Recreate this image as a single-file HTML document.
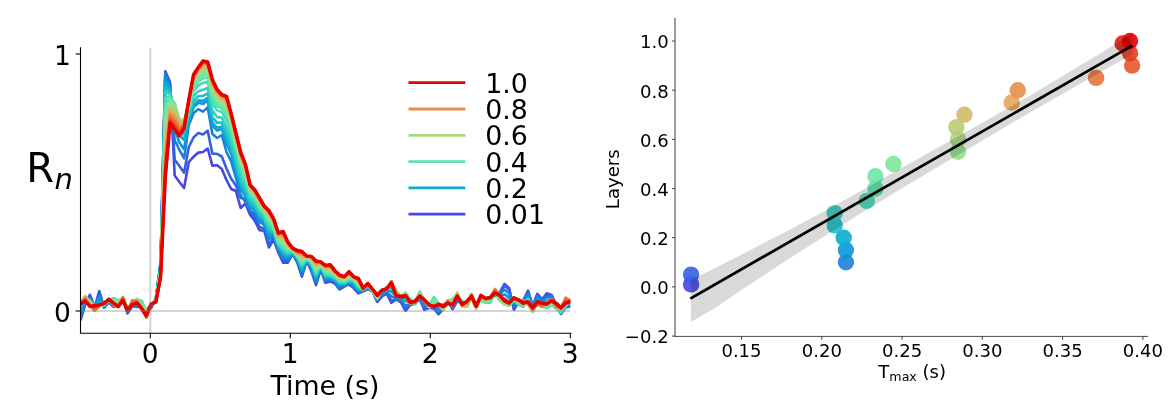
<!DOCTYPE html>
<html lang="en"><head><meta charset="utf-8"><title>Figure</title>
<style>html,body{margin:0;padding:0;background:#fff}svg{display:block}</style></head>
<body>
<svg width="1169" height="404" viewBox="0 0 1169 404" font-family="'DejaVu Sans', 'Liberation Sans', sans-serif">
<rect width="1169" height="404" fill="#fff"/>
<g id="left">
<clipPath id="cl"><rect x="80.5" y="47.8" width="489.9" height="285.5"/></clipPath>
<g clip-path="url(#cl)" fill="none" stroke-linejoin="round" stroke-linecap="butt">
<polyline points="80.5,320.5 85.2,304.1 89.9,294.8 94.6,307.8 99.3,291.2 104.1,307.6 108.8,302.2 113.5,306.9 118.2,305.1 122.9,298.6 127.6,313.3 132.3,305.9 137.0,306.9 141.7,305.5 146.4,309.5 151.2,308.0 155.9,297.9 160.6,262.0 165.3,71.4 170.0,82.0 174.7,175.6 179.4,182.0 184.1,188.0 188.8,162.0 193.6,156.7 198.3,152.6 203.0,152.0 207.7,148.6 212.4,165.6 217.1,165.3 221.8,169.0 226.5,180.0 231.2,189.0 235.9,191.0 240.7,208.0 245.4,203.5 250.1,214.7 254.8,220.8 259.5,230.2 264.2,230.7 268.9,247.4 273.6,239.7 278.3,252.4 283.1,262.7 287.8,262.7 292.5,253.9 297.2,262.2 301.9,276.7 306.6,260.8 311.3,270.9 316.0,285.1 320.7,269.1 325.4,282.8 330.2,281.4 334.9,283.5 339.6,289.5 344.3,286.6 349.0,284.4 353.7,288.1 358.4,293.4 363.1,291.4 367.8,289.1 372.6,291.4 377.3,302.0 382.0,296.3 386.7,293.7 391.4,302.8 396.1,299.4 400.8,302.0 405.5,310.9 410.2,304.9 415.0,303.5 419.7,299.1 424.4,309.9 429.1,307.8 433.8,308.4 438.5,314.3 443.2,308.6 447.9,300.6 452.6,309.2 457.3,301.2 462.1,303.4 466.8,302.5 471.5,296.2 476.2,308.3 480.9,298.5 485.6,298.6 490.3,296.6 495.0,296.0 499.7,292.6 504.5,284.0 509.2,288.3 513.9,309.8 518.6,302.1 523.3,300.3 528.0,290.7 532.7,306.0 537.4,293.8 542.1,299.3 546.8,293.2 551.6,295.0 556.3,305.3 561.0,314.0 565.7,307.3 570.4,306.6" stroke="#4646e3" stroke-width="2.6"/>
<polyline points="80.5,318.9 85.2,303.9 89.9,295.7 94.6,307.6 99.3,292.4 104.1,307.3 108.8,302.0 113.5,306.3 118.2,305.0 122.9,298.8 127.6,313.0 132.3,305.8 137.0,306.5 141.7,305.5 146.4,310.1 151.2,307.6 155.9,298.2 160.6,263.0 165.3,72.0 170.0,84.0 174.7,159.8 179.4,166.0 184.1,172.7 188.8,147.0 193.6,137.4 198.3,133.0 203.0,134.5 207.7,130.7 212.4,153.8 217.1,153.8 221.8,156.5 226.5,168.5 231.2,178.7 235.9,185.5 240.7,198.0 245.4,198.8 250.1,211.3 254.8,217.5 259.5,226.9 264.2,228.4 268.9,244.1 273.6,238.1 278.3,251.0 283.1,260.6 287.8,261.4 292.5,253.5 297.2,261.5 301.9,275.2 306.6,260.6 311.3,270.0 316.0,283.7 320.7,268.7 325.4,281.7 330.2,280.4 334.9,282.7 339.6,288.6 344.3,286.0 349.0,283.7 353.7,287.3 358.4,292.5 363.1,291.2 367.8,288.7 372.6,291.3 377.3,301.4 382.0,295.8 386.7,293.2 391.4,301.0 396.1,299.0 400.8,301.5 405.5,309.4 410.2,304.5 415.0,303.4 419.7,298.6 424.4,309.0 429.1,307.5 433.8,307.9 438.5,313.4 443.2,308.5 447.9,300.8 452.6,308.6 457.3,300.7 462.1,303.3 466.8,302.5 471.5,296.2 476.2,308.0 480.9,298.4 485.6,298.7 490.3,296.9 495.0,295.7 499.7,293.0 504.5,285.6 509.2,289.7 513.9,308.8 518.6,302.1 523.3,300.7 528.0,291.5 532.7,306.2 537.4,294.5 542.1,299.7 546.8,294.3 551.6,295.7 556.3,305.3 561.0,313.7 565.7,307.0 570.4,306.1" stroke="#3262e0" stroke-width="2.6"/>
<polyline points="80.5,314.9 85.2,303.2 89.9,298.0 94.6,307.1 99.3,295.5 104.1,306.6 108.8,301.4 113.5,305.0 118.2,304.8 122.9,299.2 127.6,312.0 132.3,305.6 137.0,305.4 141.7,305.5 146.4,311.5 151.2,306.7 155.9,299.1 160.6,264.0 165.3,74.0 170.0,86.0 174.7,140.0 179.4,150.0 184.1,158.3 188.8,125.0 193.6,113.0 198.3,109.2 203.0,111.6 207.7,107.4 212.4,134.0 217.1,138.0 221.8,135.0 226.5,152.0 231.2,161.5 235.9,178.0 240.7,195.0 245.4,201.9 250.1,210.2 254.8,213.8 259.5,221.8 264.2,224.8 268.9,239.2 273.6,235.7 278.3,249.1 283.1,258.0 287.8,259.7 292.5,253.3 297.2,260.5 301.9,273.3 306.6,260.3 311.3,268.5 316.0,281.7 320.7,268.2 325.4,280.4 330.2,279.2 334.9,281.7 339.6,287.3 344.3,285.3 349.0,282.8 353.7,286.2 358.4,291.5 363.1,290.9 367.8,288.3 372.6,291.2 377.3,299.9 382.0,294.4 386.7,291.9 391.4,296.5 396.1,298.0 400.8,300.3 405.5,305.6 410.2,303.6 415.0,303.2 419.7,297.6 424.4,306.8 429.1,306.8 433.8,306.6 438.5,311.0 443.2,308.2 447.9,301.4 452.6,307.0 457.3,299.6 462.1,303.2 466.8,302.4 471.5,296.4 476.2,307.5 480.9,298.2 485.6,299.1 490.3,297.6 495.0,295.0 499.7,294.1 504.5,289.7 509.2,293.4 513.9,306.3 518.6,302.1 523.3,301.7 528.0,293.8 532.7,306.9 537.4,296.5 542.1,300.8 546.8,297.2 551.6,297.4 556.3,305.3 561.0,312.7 565.7,306.3 570.4,304.7" stroke="#1e7edc" stroke-width="2.6"/>
<polyline points="80.5,310.2 85.2,302.5 89.9,300.4 94.6,306.5 99.3,299.0 104.1,305.8 108.8,300.8 113.5,303.2 118.2,304.3 122.9,299.7 127.6,310.9 132.3,305.4 137.0,304.0 141.7,305.0 146.4,313.1 151.2,305.7 155.9,299.9 160.6,265.0 165.3,78.0 170.0,88.0 174.7,129.0 179.4,142.5 184.1,149.2 188.8,121.2 193.6,107.1 198.3,102.8 203.0,103.9 207.7,100.5 212.4,125.7 217.1,130.6 221.8,128.8 226.5,143.5 231.2,154.2 235.9,171.1 240.7,188.5 245.4,196.4 250.1,206.5 254.8,210.4 259.5,218.8 264.2,222.5 268.9,235.9 273.6,234.1 278.3,247.8 283.1,255.7 287.8,257.9 292.5,253.1 297.2,259.4 301.9,271.4 306.6,260.1 311.3,267.1 316.0,279.8 320.7,267.8 325.4,279.0 330.2,278.1 334.9,280.8 339.6,286.0 344.3,284.7 349.0,281.9 353.7,284.9 358.4,290.5 363.1,290.5 367.8,287.7 372.6,291.1 377.3,298.2 382.0,292.8 386.7,290.3 391.4,291.4 396.1,296.7 400.8,299.0 405.5,301.1 410.2,302.4 415.0,303.2 419.7,296.1 424.4,304.3 429.1,306.0 433.8,304.7 438.5,308.2 443.2,307.9 447.9,302.0 452.6,304.9 457.3,298.3 462.1,302.9 466.8,302.4 471.5,296.6 476.2,306.7 480.9,298.1 485.6,299.7 490.3,298.7 495.0,294.1 499.7,295.6 504.5,294.4 509.2,297.6 513.9,303.5 518.6,302.3 523.3,303.1 528.0,296.2 532.7,307.7 537.4,298.7 542.1,302.2 546.8,300.8 551.6,299.6 556.3,305.5 561.0,311.8 565.7,305.7 570.4,303.0" stroke="#0a96d7" stroke-width="2.6"/>
<polyline points="80.5,306.4 85.2,301.9 89.9,301.8 94.6,306.1 99.3,301.7 104.1,305.3 108.8,300.5 113.5,301.3 118.2,303.4 122.9,300.1 127.6,309.7 132.3,305.3 137.0,302.7 141.7,303.9 146.4,314.3 151.2,305.0 155.9,300.4 160.6,266.0 165.3,82.0 170.0,90.0 174.7,118.0 179.4,135.0 184.1,140.0 188.8,119.7 193.6,104.9 198.3,100.4 203.0,100.9 207.7,97.8 212.4,122.5 217.1,127.7 221.8,126.5 226.5,140.2 231.2,151.4 235.9,168.5 240.7,186.0 245.4,194.6 250.1,204.8 254.8,208.7 259.5,217.2 264.2,221.1 268.9,233.5 273.6,233.1 278.3,246.8 283.1,253.9 287.8,256.3 292.5,252.8 297.2,258.4 301.9,269.5 306.6,259.9 311.3,265.7 316.0,278.0 320.7,267.2 325.4,277.7 330.2,277.2 334.9,279.8 339.6,284.7 344.3,284.1 349.0,281.2 353.7,283.6 358.4,289.6 363.1,290.1 367.8,287.1 372.6,291.1 377.3,296.9 382.0,291.6 386.7,288.9 391.4,287.6 396.1,295.5 400.8,297.9 405.5,297.4 410.2,301.1 415.0,303.4 419.7,294.6 424.4,302.4 429.1,305.4 433.8,302.3 438.5,305.9 443.2,307.9 447.9,302.3 452.6,302.7 457.3,297.2 462.1,302.3 466.8,302.6 471.5,296.9 476.2,306.1 480.9,298.5 485.6,300.5 490.3,300.0 495.0,293.4 499.7,297.3 504.5,298.4 509.2,301.1 513.9,301.5 518.6,302.9 523.3,304.5 528.0,297.9 532.7,308.6 537.4,300.6 542.1,303.5 546.8,304.0 551.6,301.6 556.3,306.2 561.0,311.6 565.7,305.5 570.4,301.5" stroke="#09acd1" stroke-width="2.6"/>
<polyline points="80.5,303.9 85.2,301.4 89.9,302.2 94.6,305.8 99.3,303.3 104.1,305.2 108.8,300.4 113.5,299.7 118.2,302.1 122.9,300.2 127.6,308.7 132.3,305.2 137.0,301.6 141.7,302.4 146.4,314.9 151.2,304.6 155.9,300.4 160.6,267.0 165.3,87.0 170.0,92.0 174.7,113.0 179.4,130.5 184.1,135.0 188.8,117.2 193.6,101.1 198.3,96.2 203.0,95.9 207.7,93.3 212.4,117.2 217.1,122.9 221.8,122.5 226.5,134.7 231.2,146.7 235.9,164.1 240.7,181.8 245.4,191.2 250.1,202.3 254.8,206.4 259.5,214.9 264.2,219.2 268.9,230.7 273.6,232.0 278.3,245.5 283.1,252.0 287.8,254.8 292.5,252.3 297.2,257.6 301.9,267.7 306.6,259.6 311.3,264.6 316.0,276.3 320.7,266.6 325.4,276.4 330.2,276.4 334.9,278.8 339.6,283.5 344.3,283.5 349.0,280.6 353.7,282.4 358.4,288.6 363.1,289.8 367.8,286.4 372.6,291.2 377.3,296.2 382.0,290.9 386.7,287.9 391.4,285.4 396.1,294.5 400.8,297.2 405.5,294.8 410.2,300.0 415.0,303.9 419.7,293.1 424.4,301.3 429.1,305.1 433.8,299.8 438.5,304.3 443.2,308.1 447.9,302.4 452.6,300.7 457.3,296.5 462.1,301.6 466.8,303.1 471.5,297.3 476.2,305.6 480.9,299.3 485.6,301.5 490.3,301.3 495.0,293.0 499.7,298.8 504.5,301.0 509.2,303.5 513.9,300.5 518.6,303.8 523.3,305.8 528.0,298.7 532.7,309.5 537.4,301.9 542.1,304.6 546.8,306.4 551.6,303.3 556.3,307.2 561.0,312.0 565.7,305.7 570.4,300.2" stroke="#1dbfca" stroke-width="2.6"/>
<polyline points="80.5,302.7 85.2,300.9 89.9,301.8 94.6,305.9 99.3,304.0 104.1,305.4 108.8,300.4 113.5,298.5 118.2,300.9 122.9,300.1 127.6,308.0 132.3,305.1 137.0,300.7 141.7,301.2 146.4,314.8 151.2,304.4 155.9,300.2 160.6,268.0 165.3,92.0 170.0,94.0 174.7,108.0 179.4,126.0 184.1,130.0 188.8,114.2 193.6,96.4 198.3,91.2 203.0,89.8 207.7,87.9 212.4,110.7 217.1,117.1 221.8,117.6 226.5,128.0 231.2,141.0 235.9,158.7 240.7,176.7 245.4,186.9 250.1,199.2 254.8,203.6 259.5,212.2 264.2,217.2 268.9,227.7 273.6,230.7 278.3,244.2 283.1,250.0 287.8,253.4 292.5,251.7 297.2,256.8 301.9,266.0 306.6,259.3 311.3,263.6 316.0,274.7 320.7,265.9 325.4,275.2 330.2,275.6 334.9,277.8 339.6,282.4 344.3,282.9 349.0,280.1 353.7,281.4 358.4,287.5 363.1,289.4 367.8,285.6 372.6,291.2 377.3,296.1 382.0,290.5 386.7,287.4 391.4,284.6 396.1,293.6 400.8,296.9 405.5,293.4 410.2,299.3 415.0,304.2 419.7,292.0 424.4,300.8 429.1,305.2 433.8,297.9 438.5,303.5 443.2,308.6 447.9,302.4 452.6,299.3 457.3,295.9 462.1,301.1 466.8,303.7 471.5,297.6 476.2,305.5 480.9,300.1 485.6,302.3 490.3,302.3 495.0,292.7 499.7,300.0 504.5,302.6 509.2,304.8 513.9,300.3 518.6,304.5 523.3,306.6 528.0,299.0 532.7,310.3 537.4,302.6 542.1,305.5 546.8,307.7 551.6,304.4 556.3,308.1 561.0,312.6 565.7,306.0 570.4,299.4" stroke="#31cfc2" stroke-width="2.6"/>
<polyline points="80.5,302.2 85.2,300.2 89.9,301.2 94.6,306.2 99.3,304.3 104.1,305.4 108.8,300.4 113.5,298.1 118.2,300.2 122.9,299.7 127.6,307.7 132.3,304.9 137.0,299.9 141.7,300.8 146.4,313.9 151.2,304.5 155.9,299.9 160.6,269.0 165.3,98.0 170.0,96.0 174.7,105.5 179.4,123.5 184.1,127.0 188.8,110.8 193.6,91.1 198.3,85.5 203.0,82.9 207.7,81.6 212.4,103.2 217.1,110.4 221.8,112.1 226.5,120.4 231.2,134.4 235.9,152.4 240.7,170.8 245.4,181.9 250.1,195.9 254.8,200.6 259.5,209.4 264.2,215.0 268.9,224.4 273.6,229.2 278.3,243.0 283.1,248.1 287.8,252.1 292.5,251.2 297.2,256.2 301.9,264.4 306.6,258.9 311.3,262.7 316.0,273.2 320.7,265.4 325.4,274.1 330.2,274.7 334.9,276.8 339.6,281.5 344.3,282.2 349.0,279.5 353.7,280.5 358.4,286.6 363.1,289.2 367.8,285.0 372.6,291.3 377.3,296.3 382.0,290.3 386.7,287.4 391.4,284.3 396.1,292.7 400.8,296.8 405.5,292.8 410.2,299.0 415.0,304.1 419.7,291.6 424.4,300.6 429.1,305.4 433.8,297.2 438.5,303.2 443.2,309.1 447.9,302.2 452.6,298.6 457.3,295.2 462.1,301.3 466.8,304.6 471.5,298.0 476.2,305.8 480.9,300.5 485.6,302.6 490.3,302.6 495.0,292.6 499.7,300.4 504.5,303.6 509.2,305.5 513.9,300.2 518.6,304.7 523.3,306.8 528.0,299.4 532.7,310.9 537.4,302.9 542.1,306.2 546.8,308.0 551.6,304.8 556.3,308.7 561.0,312.7 565.7,306.1 570.4,299.1" stroke="#45daba" stroke-width="2.6"/>
<polyline points="80.5,302.2 85.2,299.1 89.9,300.9 94.6,306.9 99.3,304.6 104.1,305.3 108.8,300.2 113.5,298.4 118.2,300.3 122.9,299.1 127.6,307.8 132.3,304.4 137.0,299.4 141.7,301.6 146.4,312.4 151.2,304.6 155.9,299.6 160.6,270.0 165.3,104.0 170.0,98.0 174.7,103.0 179.4,121.0 184.1,124.0 188.8,108.6 193.6,87.7 198.3,81.7 203.0,78.4 207.7,77.6 212.4,98.3 217.1,106.1 221.8,108.5 226.5,115.4 231.2,130.2 235.9,148.4 240.7,167.0 245.4,178.6 250.1,193.7 254.8,198.3 259.5,207.4 264.2,213.2 268.9,221.8 273.6,227.8 278.3,241.9 283.1,246.1 287.8,250.7 292.5,250.6 297.2,255.7 301.9,263.0 306.6,258.6 311.3,262.0 316.0,271.8 320.7,265.1 325.4,273.2 330.2,273.7 334.9,275.9 339.6,280.8 344.3,281.5 349.0,278.8 353.7,279.8 358.4,285.6 363.1,289.0 367.8,284.6 372.6,291.4 377.3,296.9 382.0,290.0 386.7,287.8 391.4,284.3 396.1,291.6 400.8,296.9 405.5,292.9 410.2,299.3 415.0,303.4 419.7,291.8 424.4,300.4 429.1,305.9 433.8,298.1 438.5,303.2 443.2,309.6 447.9,302.0 452.6,298.9 457.3,294.4 462.1,302.3 466.8,305.5 471.5,298.3 476.2,306.5 480.9,300.1 485.6,302.4 490.3,302.2 495.0,292.5 499.7,300.1 504.5,304.2 509.2,305.6 513.9,299.9 518.6,304.1 523.3,306.3 528.0,300.4 532.7,311.4 537.4,302.9 542.1,306.7 546.8,307.2 551.6,304.5 556.3,308.7 561.0,312.1 565.7,305.8 570.4,299.1" stroke="#59e2b0" stroke-width="2.6"/>
<polyline points="80.5,302.4 85.2,297.8 89.9,300.9 94.6,307.7 99.3,304.8 104.1,305.0 108.8,299.8 113.5,299.4 118.2,301.0 122.9,298.4 127.6,308.2 132.3,303.8 137.0,299.0 141.7,303.4 146.4,310.7 151.2,304.8 155.9,299.5 160.6,271.0 165.3,111.0 170.0,100.0 174.7,103.5 179.4,120.2 184.1,122.2 188.8,107.1 193.6,85.4 198.3,79.3 203.0,75.4 207.7,74.9 212.4,95.1 217.1,103.2 221.8,106.1 226.5,112.1 231.2,127.3 235.9,145.8 240.7,164.5 245.4,176.4 250.1,192.2 254.8,196.5 259.5,205.9 264.2,211.8 268.9,219.7 273.6,226.4 278.3,241.0 283.1,244.2 287.8,249.4 292.5,250.2 297.2,255.4 301.9,261.6 306.6,258.3 311.3,261.3 316.0,270.5 320.7,265.0 325.4,272.4 330.2,272.5 334.9,275.1 339.6,280.3 344.3,280.7 349.0,278.1 353.7,279.3 358.4,284.7 363.1,288.9 367.8,284.3 372.6,291.5 377.3,297.6 382.0,289.8 386.7,288.6 391.4,284.2 396.1,290.7 400.8,297.1 405.5,293.4 410.2,299.9 415.0,302.3 419.7,292.5 424.4,300.2 429.1,306.5 433.8,300.0 438.5,303.5 443.2,310.0 447.9,301.9 452.6,299.8 457.3,293.6 462.1,303.8 466.8,306.3 471.5,298.5 476.2,307.5 480.9,299.2 485.6,301.8 490.3,301.1 495.0,292.4 499.7,299.2 504.5,304.5 509.2,305.5 513.9,299.4 518.6,302.8 523.3,305.2 528.0,301.8 532.7,311.7 537.4,302.7 542.1,307.0 546.8,305.8 551.6,303.7 556.3,308.2 561.0,311.0 565.7,305.1 570.4,299.5" stroke="#6ce5a6" stroke-width="2.6"/>
<polyline points="80.5,302.8 85.2,296.7 89.9,301.3 94.6,308.4 99.3,305.0 104.1,304.5 108.8,299.4 113.5,300.6 118.2,302.1 122.9,297.7 127.6,308.8 132.3,303.2 137.0,298.9 141.7,305.4 146.4,309.3 151.2,304.9 155.9,299.4 160.6,272.0 165.3,118.0 170.0,102.0 174.7,104.0 179.4,119.5 184.1,120.5 188.8,105.8 193.6,83.4 198.3,77.1 203.0,72.7 207.7,72.5 212.4,92.3 217.1,100.7 221.8,104.0 226.5,109.2 231.2,124.9 235.9,143.4 240.7,162.3 245.4,174.3 250.1,191.0 254.8,195.0 259.5,204.6 264.2,210.6 268.9,217.8 273.6,225.1 278.3,240.2 283.1,242.4 287.8,248.2 292.5,249.8 297.2,255.0 301.9,260.4 306.6,258.0 311.3,260.7 316.0,269.3 320.7,264.9 325.4,271.7 330.2,271.3 334.9,274.4 339.6,279.8 344.3,280.0 349.0,277.3 353.7,278.9 358.4,283.9 363.1,288.9 367.8,284.2 372.6,291.4 377.3,298.2 382.0,289.5 386.7,289.3 391.4,284.1 396.1,290.0 400.8,297.3 405.5,294.0 410.2,300.7 415.0,301.1 419.7,293.4 424.4,299.9 429.1,307.0 433.8,302.4 438.5,303.8 443.2,310.2 447.9,301.9 452.6,301.1 457.3,292.9 462.1,305.3 466.8,306.9 471.5,298.6 476.2,308.4 480.9,298.1 485.6,300.9 490.3,299.8 495.0,292.4 499.7,298.0 504.5,304.7 509.2,305.3 513.9,298.9 518.6,301.4 523.3,304.0 528.0,303.1 532.7,311.8 537.4,302.5 542.1,307.1 546.8,304.3 551.6,302.8 556.3,307.4 561.0,309.7 565.7,304.2 570.4,300.0" stroke="#80e59b" stroke-width="2.6"/>
<polyline points="80.5,303.1 85.2,296.2 89.9,301.8 94.6,308.9 99.3,305.2 104.1,304.2 108.8,299.1 113.5,301.7 118.2,303.2 122.9,297.4 127.6,309.3 132.3,302.8 137.0,299.0 141.7,307.2 146.4,308.8 151.2,304.9 155.9,299.6 160.6,272.5 165.3,125.0 170.0,104.0 174.7,106.0 179.4,119.8 184.1,120.2 188.8,104.8 193.6,81.8 198.3,75.3 203.0,70.6 207.7,70.6 212.4,90.0 217.1,98.6 221.8,102.3 226.5,106.9 231.2,122.9 235.9,141.6 240.7,160.5 245.4,172.6 250.1,189.9 254.8,193.8 259.5,203.5 264.2,209.6 268.9,216.3 273.6,223.9 278.3,239.3 283.1,240.7 287.8,247.1 292.5,249.5 297.2,254.6 301.9,259.2 306.6,257.7 311.3,260.1 316.0,268.1 320.7,264.7 325.4,270.9 330.2,270.2 334.9,273.8 339.6,279.3 344.3,279.4 349.0,276.4 353.7,278.5 358.4,283.1 363.1,288.9 367.8,284.1 372.6,291.3 377.3,298.3 382.0,289.4 386.7,289.8 391.4,283.8 396.1,289.9 400.8,297.3 405.5,294.6 410.2,301.3 415.0,300.3 419.7,294.3 424.4,299.8 429.1,307.1 433.8,304.5 438.5,304.0 443.2,310.0 447.9,301.9 452.6,302.3 457.3,292.6 462.1,306.4 466.8,307.0 471.5,298.5 476.2,308.8 480.9,297.1 485.6,300.1 490.3,298.7 495.0,292.3 499.7,297.0 504.5,304.4 509.2,304.9 513.9,298.4 518.6,300.3 523.3,303.0 528.0,304.1 532.7,311.6 537.4,302.3 542.1,307.0 546.8,303.1 551.6,301.9 556.3,306.6 561.0,308.6 565.7,303.4 570.4,300.5" stroke="#94e08f" stroke-width="2.6"/>
<polyline points="80.5,303.4 85.2,296.2 89.9,302.6 94.6,309.1 99.3,305.4 104.1,303.8 108.8,299.0 113.5,302.6 118.2,304.2 122.9,297.3 127.6,309.7 132.3,302.5 137.0,299.5 141.7,308.4 146.4,309.5 151.2,304.7 155.9,299.9 160.6,273.0 165.3,132.0 170.0,106.0 174.7,108.0 179.4,120.0 184.1,120.0 188.8,103.9 193.6,80.5 198.3,73.9 203.0,68.8 207.7,69.0 212.4,88.1 217.1,96.9 221.8,100.9 226.5,104.9 231.2,121.2 235.9,140.0 240.7,159.0 245.4,171.0 250.1,189.0 254.8,193.0 259.5,202.5 264.2,208.9 268.9,215.3 273.6,222.9 278.3,238.4 283.1,239.1 287.8,246.2 292.5,249.3 297.2,254.1 301.9,258.0 306.6,257.5 311.3,259.5 316.0,267.0 320.7,264.4 325.4,270.1 330.2,269.2 334.9,273.3 339.6,278.7 344.3,278.8 349.0,275.5 353.7,278.3 358.4,282.4 363.1,288.9 367.8,284.0 372.6,291.0 377.3,298.0 382.0,289.5 386.7,289.9 391.4,283.4 396.1,290.5 400.8,297.2 405.5,295.2 410.2,301.9 415.0,300.1 419.7,295.0 424.4,299.8 429.1,307.0 433.8,305.7 438.5,304.1 443.2,309.4 447.9,301.9 452.6,303.4 457.3,292.8 462.1,306.8 466.8,306.5 471.5,298.0 476.2,308.7 480.9,296.4 485.6,299.6 490.3,298.0 495.0,292.1 499.7,296.3 504.5,303.7 509.2,304.3 513.9,298.2 518.6,299.7 523.3,302.2 528.0,304.5 532.7,311.1 537.4,302.4 542.1,306.7 546.8,302.6 551.6,301.1 556.3,306.0 561.0,307.9 565.7,302.5 570.4,300.8" stroke="#a8d782" stroke-width="2.6"/>
<polyline points="80.5,303.5 85.2,296.7 89.9,303.5 94.6,309.4 99.3,305.6 104.1,303.4 108.8,299.2 113.5,303.5 118.2,304.9 122.9,297.4 127.6,310.1 132.3,302.0 137.0,300.0 141.7,309.0 146.4,311.3 151.2,304.5 155.9,300.4 160.6,273.7 165.3,138.7 170.0,108.0 174.7,110.7 179.4,121.7 184.1,121.0 188.8,103.1 193.6,79.3 198.3,72.6 203.0,67.3 207.7,67.6 212.4,86.4 217.1,95.4 221.8,99.6 226.5,103.2 231.2,119.7 235.9,138.6 240.7,157.7 245.4,169.5 250.1,188.2 254.8,192.5 259.5,201.7 264.2,208.5 268.9,214.6 273.6,222.0 278.3,237.3 283.1,237.7 287.8,245.4 292.5,249.1 297.2,253.7 301.9,256.9 306.6,257.2 311.3,258.8 316.0,266.0 320.7,263.8 325.4,269.1 330.2,268.4 334.9,273.0 339.6,278.1 344.3,278.3 349.0,274.6 353.7,278.0 358.4,281.8 363.1,289.0 367.8,283.8 372.6,290.5 377.3,297.1 382.0,289.6 386.7,289.7 391.4,282.9 396.1,291.6 400.8,296.8 405.5,295.8 410.2,302.4 415.0,300.5 419.7,295.3 424.4,299.9 429.1,306.5 433.8,306.3 438.5,304.2 443.2,308.3 447.9,301.8 452.6,304.2 457.3,293.4 462.1,306.6 466.8,305.7 471.5,297.1 476.2,308.0 480.9,296.0 485.6,299.3 490.3,297.6 495.0,291.4 499.7,295.9 504.5,302.7 509.2,303.7 513.9,298.2 518.6,299.7 523.3,301.6 528.0,304.5 532.7,310.5 537.4,302.8 542.1,306.5 546.8,302.5 551.6,300.5 556.3,306.0 561.0,307.6 565.7,301.3 570.4,300.9" stroke="#bcca75" stroke-width="2.6"/>
<polyline points="80.5,303.7 85.2,297.2 89.9,304.4 94.6,310.0 99.3,305.8 104.1,303.0 108.8,299.5 113.5,304.3 118.2,305.4 122.9,297.2 127.6,310.3 132.3,301.2 137.0,300.4 141.7,309.2 146.4,313.8 151.2,304.2 155.9,300.8 160.6,274.3 165.3,145.3 170.0,110.0 174.7,113.3 179.4,123.3 184.1,122.0 188.8,102.4 193.6,78.2 198.3,71.4 203.0,65.9 207.7,66.4 212.4,84.9 217.1,94.1 221.8,98.5 226.5,101.6 231.2,118.4 235.9,137.3 240.7,156.5 245.4,168.1 250.1,187.3 254.8,192.1 259.5,200.9 264.2,208.1 268.9,214.0 273.6,221.3 278.3,236.3 283.1,236.4 287.8,244.8 292.5,249.1 297.2,253.3 301.9,255.9 306.6,257.0 311.3,258.0 316.0,265.0 320.7,263.0 325.4,268.1 330.2,267.8 334.9,272.7 339.6,277.4 344.3,277.7 349.0,273.6 353.7,277.8 358.4,281.2 363.1,289.2 367.8,283.6 372.6,290.0 377.3,295.9 382.0,289.8 386.7,289.4 391.4,282.2 396.1,293.0 400.8,296.2 405.5,296.4 410.2,303.0 415.0,301.4 419.7,295.4 424.4,300.2 429.1,305.9 433.8,306.4 438.5,304.1 443.2,307.0 447.9,301.4 452.6,305.0 457.3,294.2 462.1,306.1 466.8,304.8 471.5,295.9 476.2,307.1 480.9,295.8 485.6,299.2 490.3,297.3 495.0,290.4 499.7,295.8 504.5,301.4 509.2,303.0 513.9,298.5 518.6,300.0 523.3,300.9 528.0,304.4 532.7,310.0 537.4,303.6 542.1,306.5 546.8,302.7 551.6,299.9 556.3,306.5 561.0,307.5 565.7,299.7 570.4,300.8" stroke="#cfb968" stroke-width="2.6"/>
<polyline points="80.5,303.7 85.2,297.5 89.9,305.0 94.6,310.7 99.3,306.1 104.1,302.6 108.8,299.8 113.5,305.0 118.2,305.7 122.9,297.0 127.6,310.5 132.3,300.4 137.0,300.7 141.7,309.3 146.4,316.1 151.2,303.9 155.9,301.1 160.6,275.0 165.3,152.0 170.0,112.0 174.7,116.0 179.4,125.0 184.1,123.0 188.8,101.8 193.6,77.3 198.3,70.5 203.0,64.7 207.7,65.3 212.4,83.7 217.1,92.9 221.8,97.5 226.5,100.4 231.2,117.3 235.9,136.3 240.7,155.5 245.4,166.9 250.1,186.6 254.8,191.8 259.5,200.2 264.2,207.8 268.9,213.5 273.6,220.7 278.3,235.4 283.1,235.3 287.8,244.2 292.5,249.0 297.2,253.0 301.9,255.0 306.6,256.7 311.3,257.3 316.0,264.1 320.7,262.3 325.4,267.1 330.2,267.2 334.9,272.5 339.6,276.8 344.3,277.1 349.0,272.8 353.7,277.5 358.4,280.7 363.1,289.5 367.8,283.2 372.6,289.5 377.3,294.8 382.0,290.0 386.7,289.0 391.4,281.5 396.1,294.1 400.8,295.6 405.5,296.9 410.2,303.4 415.0,302.2 419.7,295.4 424.4,300.5 429.1,305.3 433.8,306.2 438.5,303.9 443.2,305.8 447.9,301.1 452.6,305.6 457.3,294.9 462.1,305.6 466.8,304.2 471.5,294.8 476.2,306.1 480.9,295.7 485.6,299.2 490.3,297.2 495.0,289.4 499.7,295.7 504.5,300.2 509.2,302.3 513.9,298.8 518.6,300.3 523.3,300.4 528.0,304.4 532.7,309.6 537.4,304.4 542.1,306.7 546.8,303.0 551.6,299.4 556.3,307.1 561.0,307.5 565.7,298.2 570.4,300.7" stroke="#e3a559" stroke-width="2.6"/>
<polyline points="80.5,303.8 85.2,298.0 89.9,305.5 94.6,310.8 99.3,306.2 104.1,302.5 108.8,300.0 113.5,305.3 118.2,306.0 122.9,297.1 127.6,310.6 132.3,300.2 137.0,301.0 141.7,309.3 146.4,317.5 151.2,303.7 155.9,301.4 160.6,275.4 165.3,157.0 170.0,114.2 174.7,118.7 179.4,127.1 184.1,124.1 188.8,101.3 193.6,76.5 198.3,69.6 203.0,63.6 207.7,64.4 212.4,82.5 217.1,91.9 221.8,96.7 226.5,99.2 231.2,116.3 235.9,135.3 240.7,154.6 245.4,165.9 250.1,186.0 254.8,191.4 259.5,199.6 264.2,207.4 268.9,212.8 273.6,220.1 278.3,234.6 283.1,234.2 287.8,243.6 292.5,248.8 297.2,252.6 301.9,254.1 306.6,256.5 311.3,256.7 316.0,263.3 320.7,261.8 325.4,266.4 330.2,266.6 334.9,272.1 339.6,276.2 344.3,276.7 349.0,272.1 353.7,277.2 358.4,280.2 363.1,289.5 367.8,283.0 372.6,289.2 377.3,294.2 382.0,290.1 386.7,288.8 391.4,281.2 396.1,294.9 400.8,295.3 405.5,297.1 410.2,303.6 415.0,302.7 419.7,295.4 424.4,300.6 429.1,304.9 433.8,306.1 438.5,303.9 443.2,305.1 447.9,301.0 452.6,305.9 457.3,295.4 462.1,305.2 466.8,303.6 471.5,294.2 476.2,305.6 480.9,295.7 485.6,299.2 490.3,297.2 495.0,288.9 499.7,295.7 504.5,299.5 509.2,302.0 513.9,299.0 518.6,300.5 523.3,300.2 528.0,304.2 532.7,309.2 537.4,304.7 542.1,306.6 546.8,303.2 551.6,299.2 556.3,307.3 561.0,307.5 565.7,297.6 570.4,300.7" stroke="#e68e4b" stroke-width="2.6"/>
<polyline points="80.5,303.7 85.2,298.7 89.9,305.8 94.6,310.0 99.3,306.0 104.1,302.6 108.8,299.9 113.5,305.0 118.2,306.2 122.9,297.7 127.6,310.6 132.3,300.9 137.0,301.5 141.7,309.2 146.4,317.7 151.2,303.7 155.9,301.6 160.6,275.8 165.3,162.0 170.0,116.4 174.7,121.4 179.4,129.2 184.1,125.2 188.8,100.8 193.6,75.8 198.3,68.8 203.0,62.7 207.7,63.5 212.4,81.5 217.1,91.0 221.8,95.9 226.5,98.1 231.2,115.4 235.9,134.5 240.7,153.8 245.4,165.2 250.1,185.5 254.8,191.0 259.5,199.0 264.2,207.0 268.9,212.2 273.6,219.6 278.3,234.0 283.1,233.3 287.8,243.0 292.5,248.6 297.2,252.1 301.9,253.3 306.6,256.4 311.3,256.4 316.0,262.6 320.7,261.6 325.4,265.9 330.2,266.1 334.9,271.7 339.6,275.8 344.3,276.6 349.0,271.7 353.7,277.0 358.4,279.7 363.1,289.2 367.8,283.1 372.6,289.1 377.3,294.1 382.0,290.2 386.7,288.7 391.4,281.3 396.1,295.3 400.8,295.5 405.5,297.0 410.2,303.4 415.0,302.7 419.7,295.5 424.4,300.6 429.1,304.8 433.8,306.1 438.5,304.0 443.2,305.1 447.9,301.3 452.6,305.8 457.3,295.7 462.1,304.9 466.8,303.0 471.5,294.3 476.2,305.5 480.9,295.6 485.6,299.0 490.3,297.3 495.0,289.5 499.7,295.7 504.5,299.5 509.2,302.0 513.9,298.9 518.6,300.5 523.3,300.6 528.0,303.7 532.7,308.9 537.4,304.3 542.1,306.0 546.8,303.5 551.6,299.4 556.3,306.7 561.0,307.6 565.7,298.3 570.4,300.8" stroke="#e6743c" stroke-width="2.6"/>
<polyline points="80.5,303.7 85.2,299.9 89.9,306.1 94.6,308.1 99.3,305.4 104.1,303.0 108.8,299.6 113.5,304.1 118.2,306.4 122.9,299.0 127.6,310.5 132.3,302.7 137.0,302.2 141.7,308.8 146.4,316.8 151.2,303.8 155.9,301.8 160.6,276.2 165.3,167.0 170.0,118.6 174.7,124.1 179.4,131.4 184.1,126.3 188.8,100.5 193.6,75.2 198.3,68.2 203.0,62.0 207.7,62.9 212.4,80.7 217.1,90.3 221.8,95.4 226.5,97.4 231.2,114.7 235.9,133.9 240.7,153.2 245.4,164.8 250.1,185.2 254.8,190.6 259.5,198.6 264.2,206.6 268.9,211.5 273.6,219.3 278.3,233.5 283.1,232.5 287.8,242.6 292.5,248.4 297.2,251.3 301.9,252.5 306.6,256.2 311.3,256.5 316.0,261.8 320.7,261.8 325.4,265.7 330.2,265.4 334.9,271.3 339.6,275.4 344.3,276.7 349.0,271.7 353.7,276.9 358.4,279.2 363.1,288.7 367.8,283.4 372.6,289.2 377.3,294.7 382.0,290.2 386.7,288.7 391.4,282.0 396.1,295.5 400.8,296.2 405.5,296.3 410.2,302.8 415.0,302.1 419.7,295.8 424.4,300.3 429.1,304.7 433.8,306.3 438.5,304.2 443.2,305.7 447.9,302.2 452.6,305.4 457.3,296.0 462.1,304.6 466.8,302.2 471.5,295.3 476.2,305.8 480.9,295.5 485.6,298.8 490.3,297.5 495.0,291.1 499.7,295.6 504.5,300.1 509.2,302.5 513.9,298.4 518.6,300.3 523.3,301.8 528.0,302.7 532.7,308.4 537.4,303.1 542.1,304.7 546.8,303.7 551.6,300.1 556.3,305.1 561.0,307.8 565.7,300.6 570.4,301.2" stroke="#e6582d" stroke-width="2.6"/>
<polyline points="80.5,303.6 85.2,300.8 89.9,306.2 94.6,306.4 99.3,305.0 104.1,303.5 108.8,299.3 113.5,303.3 118.2,306.6 122.9,300.1 127.6,310.4 132.3,304.2 137.0,302.8 141.7,308.6 146.4,315.9 151.2,304.0 155.9,302.0 160.6,276.6 165.3,172.0 170.0,120.8 174.7,126.8 179.4,133.5 184.1,127.4 188.8,100.2 193.6,74.8 198.3,67.8 203.0,61.5 207.7,62.4 212.4,80.2 217.1,89.8 221.8,95.0 226.5,96.8 231.2,114.2 235.9,133.4 240.7,152.8 245.4,164.6 250.1,185.0 254.8,190.2 259.5,198.2 264.2,206.2 268.9,210.9 273.6,219.0 278.3,233.1 283.1,231.8 287.8,242.2 292.5,248.1 297.2,250.7 301.9,251.8 306.6,256.1 311.3,256.5 316.0,261.3 320.7,262.0 325.4,265.6 330.2,264.9 334.9,270.9 339.6,275.1 344.3,276.8 349.0,271.7 353.7,276.9 358.4,278.7 363.1,288.2 367.8,283.6 372.6,289.3 377.3,295.3 382.0,290.3 386.7,288.8 391.4,282.6 396.1,295.5 400.8,296.8 405.5,295.7 410.2,302.2 415.0,301.6 419.7,296.1 424.4,300.0 429.1,304.8 433.8,306.5 438.5,304.3 443.2,306.4 447.9,303.0 452.6,304.9 457.3,296.2 462.1,304.5 466.8,301.6 471.5,296.2 476.2,306.2 480.9,295.4 485.6,298.6 490.3,297.7 495.0,292.5 499.7,295.4 504.5,300.7 509.2,303.0 513.9,298.0 518.6,300.1 523.3,302.8 528.0,302.0 532.7,308.0 537.4,302.1 542.1,303.6 546.8,303.9 551.6,300.7 556.3,303.7 561.0,307.9 565.7,302.5 570.4,301.6" stroke="#e63b1e" stroke-width="2.6"/>
<polyline points="80.5,303.6 85.2,301.1 89.9,306.3 94.6,305.9 99.3,304.8 104.1,303.6 108.8,299.2 113.5,303.0 118.2,306.7 122.9,300.5 127.6,310.4 132.3,304.7 137.0,303.0 141.7,308.5 146.4,315.5 151.2,304.0 155.9,302.0 160.6,276.9 165.3,176.0 170.0,122.6 174.7,129.0 179.4,135.2 184.1,128.3 188.8,100.0 193.6,74.6 198.3,67.5 203.0,61.1 207.7,62.1 212.4,79.8 217.1,89.5 221.8,94.7 226.5,96.4 231.2,113.9 235.9,133.1 240.7,152.5 245.4,164.4 250.1,184.8 254.8,190.0 259.5,198.0 264.2,206.0 268.9,210.6 273.6,218.8 278.3,232.9 283.1,231.5 287.8,242.0 292.5,248.0 297.2,250.5 301.9,251.5 306.6,256.0 311.3,256.5 316.0,261.0 320.7,262.0 325.4,265.5 330.2,264.7 334.9,270.7 339.6,275.0 344.3,276.8 349.0,271.6 353.7,276.8 358.4,278.5 363.1,288.0 367.8,283.7 372.6,289.3 377.3,295.5 382.0,290.3 386.7,288.8 391.4,282.8 396.1,295.5 400.8,297.0 405.5,295.5 410.2,302.0 415.0,301.4 419.7,296.2 424.4,299.9 429.1,304.8 433.8,306.6 438.5,304.4 443.2,306.6 447.9,303.3 452.6,304.8 457.3,296.2 462.1,304.4 466.8,301.4 471.5,296.5 476.2,306.3 480.9,295.4 485.6,298.5 490.3,297.8 495.0,292.9 499.7,295.4 504.5,300.9 509.2,303.2 513.9,297.8 518.6,300.0 523.3,303.2 528.0,301.7 532.7,307.9 537.4,301.7 542.1,303.2 546.8,304.0 551.6,300.9 556.3,303.2 561.0,307.9 565.7,303.1 570.4,301.7" stroke="#e61c0e" stroke-width="2.6"/>
<polyline points="80.5,303.6 85.2,301.1 89.9,306.3 94.6,305.8 99.3,304.8 104.1,303.6 108.8,299.2 113.5,303.0 118.2,306.7 122.9,300.5 127.6,310.4 132.3,304.8 137.0,303.0 141.7,308.5 146.4,315.5 151.2,304.0 155.9,302.0 160.6,277.0 165.3,177.0 170.0,123.0 174.7,129.5 179.4,135.6 184.1,128.5 188.8,100.0 193.6,74.5 198.3,67.4 203.0,61.0 207.7,62.0 212.4,79.7 217.1,89.4 221.8,94.6 226.5,96.3 231.2,113.8 235.9,133.0 240.7,152.4 245.4,164.3 250.1,184.8 254.8,190.0 259.5,198.0 264.2,206.0 268.9,210.6 273.6,218.8 278.3,232.9 283.1,231.5 287.8,242.0 292.5,248.0 297.2,250.5 301.9,251.5 306.6,256.0 311.3,256.5 316.0,261.0 320.7,262.0 325.4,265.5 330.2,264.7 334.9,270.7 339.6,275.0 344.3,276.8 349.0,271.6 353.7,276.8 358.4,278.5 363.1,288.0 367.8,283.7 372.6,289.3 377.3,295.5 382.0,290.3 386.7,288.8 391.4,282.8 396.1,295.5 400.8,297.0 405.5,295.5 410.2,302.0 415.0,301.4 419.7,296.2 424.4,299.9 429.1,304.8 433.8,306.6 438.5,304.4 443.2,306.6 447.9,303.3 452.6,304.8 457.3,296.2 462.1,304.4 466.8,301.4 471.5,296.5 476.2,306.3 480.9,295.4 485.6,298.5 490.3,297.8 495.0,293.0 499.7,295.4 504.5,300.9 509.2,303.2 513.9,297.8 518.6,300.0 523.3,303.2 528.0,301.7 532.7,307.9 537.4,301.7 542.1,303.2 546.8,304.0 551.6,300.9 556.3,303.2 561.0,307.9 565.7,303.2 570.4,301.7" stroke="#e60000" stroke-width="3.5"/>
</g>
<line x1="150.3" y1="47.8" x2="150.3" y2="333.3" stroke="#808080" stroke-opacity="0.34" stroke-width="2.1"/>
<line x1="80.5" y1="311.0" x2="570.4" y2="311.0" stroke="#808080" stroke-opacity="0.34" stroke-width="2.1"/>
<path d="M80.5 47.8V333.3H570.9" fill="none" stroke="#000" stroke-width="1.1" stroke-linecap="square"/>
<line x1="150.3" y1="333.3" x2="150.3" y2="338.2" stroke="#000" stroke-width="1.1"/>
<text x="150.3" y="363.2" font-size="26.5" text-anchor="middle">0</text>
<line x1="290.3" y1="333.3" x2="290.3" y2="338.2" stroke="#000" stroke-width="1.1"/>
<text x="290.3" y="363.2" font-size="26.5" text-anchor="middle">1</text>
<line x1="430.3" y1="333.3" x2="430.3" y2="338.2" stroke="#000" stroke-width="1.1"/>
<text x="430.3" y="363.2" font-size="26.5" text-anchor="middle">2</text>
<line x1="570.3" y1="333.3" x2="570.3" y2="338.2" stroke="#000" stroke-width="1.1"/>
<text x="570.3" y="363.2" font-size="26.5" text-anchor="middle">3</text>
<line x1="75.6" y1="311.0" x2="80.5" y2="311.0" stroke="#000" stroke-width="1.1"/>
<text x="70.9" y="321.7" font-size="26.5" text-anchor="end">0</text>
<line x1="75.6" y1="54.0" x2="80.5" y2="54.0" stroke="#000" stroke-width="1.1"/>
<text x="70.9" y="64.7" font-size="26.5" text-anchor="end">1</text>
<text x="325.0" y="395.1" font-size="26.8" text-anchor="middle">Time (s)</text>
<text x="26.2" y="181.9" font-size="40">R<tspan font-size="29" font-style="italic" dx="0.6" dy="6.9">n</tspan></text>
<line x1="408.5" y1="82.7" x2="465.3" y2="82.7" stroke="#e60000" stroke-width="2.8"/>
<text x="485.3" y="92.6" font-size="26.8">1.0</text>
<line x1="408.5" y1="109.0" x2="465.3" y2="109.0" stroke="#e68e4b" stroke-width="2.8"/>
<text x="485.3" y="118.9" font-size="26.8">0.8</text>
<line x1="408.5" y1="135.3" x2="465.3" y2="135.3" stroke="#a8d782" stroke-width="2.8"/>
<text x="485.3" y="145.2" font-size="26.8">0.6</text>
<line x1="408.5" y1="161.6" x2="465.3" y2="161.6" stroke="#59e2b0" stroke-width="2.8"/>
<text x="485.3" y="171.5" font-size="26.8">0.4</text>
<line x1="408.5" y1="187.9" x2="465.3" y2="187.9" stroke="#09acd1" stroke-width="2.8"/>
<text x="485.3" y="197.8" font-size="26.8">0.2</text>
<line x1="408.5" y1="214.2" x2="465.3" y2="214.2" stroke="#4646e3" stroke-width="2.8"/>
<text x="485.3" y="224.1" font-size="26.8">0.01</text>
</g>
<g id="right">
<circle cx="691.1" cy="284.4" r="8.2" fill="#4646e3" fill-opacity="0.9"/>
<circle cx="691.1" cy="274.6" r="8.2" fill="#3262e0" fill-opacity="0.9"/>
<circle cx="845.9" cy="262.3" r="8.2" fill="#1e7edc" fill-opacity="0.9"/>
<circle cx="845.9" cy="250.0" r="8.2" fill="#0a96d7" fill-opacity="0.9"/>
<circle cx="843.7" cy="237.7" r="8.2" fill="#09acd1" fill-opacity="0.9"/>
<circle cx="834.7" cy="225.4" r="8.2" fill="#1dbfca" fill-opacity="0.9"/>
<circle cx="834.7" cy="213.1" r="8.2" fill="#31cfc2" fill-opacity="0.9"/>
<circle cx="866.8" cy="200.9" r="8.2" fill="#45daba" fill-opacity="0.9"/>
<circle cx="875.4" cy="188.6" r="8.2" fill="#59e2b0" fill-opacity="0.9"/>
<circle cx="875.4" cy="176.3" r="8.2" fill="#6ce5a6" fill-opacity="0.9"/>
<circle cx="893.4" cy="164.0" r="8.2" fill="#80e59b" fill-opacity="0.9"/>
<circle cx="958.0" cy="151.7" r="8.2" fill="#94e08f" fill-opacity="0.9"/>
<circle cx="958.0" cy="139.4" r="8.2" fill="#a8d782" fill-opacity="0.9"/>
<circle cx="956.4" cy="127.1" r="8.2" fill="#bcca75" fill-opacity="0.9"/>
<circle cx="964.4" cy="114.8" r="8.2" fill="#cfb968" fill-opacity="0.9"/>
<circle cx="1011.7" cy="102.5" r="8.2" fill="#e3a559" fill-opacity="0.9"/>
<circle cx="1017.8" cy="90.2" r="8.2" fill="#e68e4b" fill-opacity="0.9"/>
<circle cx="1096.1" cy="77.9" r="8.2" fill="#e6743c" fill-opacity="0.9"/>
<circle cx="1132.1" cy="65.6" r="8.2" fill="#e6582d" fill-opacity="0.9"/>
<circle cx="1130.0" cy="53.3" r="8.2" fill="#e63b1e" fill-opacity="0.9"/>
<circle cx="1122.6" cy="43.5" r="8.2" fill="#e61c0e" fill-opacity="0.9"/>
<circle cx="1130.0" cy="41.0" r="8.2" fill="#e60000" fill-opacity="0.9"/>
<polygon points="690.9,280.3 715.0,268.1 745.0,252.8 760.0,245.0 790.0,229.4 820.0,213.6 860.0,191.5 900.0,168.8 930.0,152.0 980.0,123.9 1030.0,95.6 1100.0,53.4 1132.2,33.6 1132.2,54.6 1100.0,72.4 1030.0,112.5 980.0,142.0 930.0,171.6 900.0,189.6 860.0,213.7 820.0,238.9 790.0,258.1 760.0,277.8 745.0,287.6 715.0,308.0 690.9,322.1" fill="#000" fill-opacity="0.15"/>
<line x1="691.6" y1="297.9" x2="1131.0" y2="46.3" stroke="#000" stroke-width="2.8" stroke-linecap="square"/>
<line x1="675.0" y1="17.7" x2="675.0" y2="336.9" stroke="#000" stroke-width="0.78"/>
<line x1="674.6" y1="336.4" x2="1148.2" y2="336.4" stroke="#4a4a4a" stroke-width="1"/>
<line x1="741.5" y1="336.4" x2="741.5" y2="339.8" stroke="#444" stroke-width="1"/>
<text x="741.5" y="357.1" font-size="18.06" text-anchor="middle">0.15</text>
<line x1="821.8" y1="336.4" x2="821.8" y2="339.8" stroke="#444" stroke-width="1"/>
<text x="821.8" y="357.1" font-size="18.06" text-anchor="middle">0.20</text>
<line x1="902.1" y1="336.4" x2="902.1" y2="339.8" stroke="#444" stroke-width="1"/>
<text x="902.1" y="357.1" font-size="18.06" text-anchor="middle">0.25</text>
<line x1="982.3" y1="336.4" x2="982.3" y2="339.8" stroke="#444" stroke-width="1"/>
<text x="982.3" y="357.1" font-size="18.06" text-anchor="middle">0.30</text>
<line x1="1062.6" y1="336.4" x2="1062.6" y2="339.8" stroke="#444" stroke-width="1"/>
<text x="1062.6" y="357.1" font-size="18.06" text-anchor="middle">0.35</text>
<line x1="1142.9" y1="336.4" x2="1142.9" y2="339.8" stroke="#444" stroke-width="1"/>
<text x="1142.9" y="357.1" font-size="18.06" text-anchor="middle">0.40</text>
<line x1="672.0" y1="336.1" x2="675.0" y2="336.1" stroke="#444" stroke-width="1"/>
<text x="668.7" y="343.4" font-size="18.06" text-anchor="end">−0.2</text>
<line x1="672.0" y1="286.9" x2="675.0" y2="286.9" stroke="#444" stroke-width="1"/>
<text x="668.7" y="294.2" font-size="18.06" text-anchor="end">0.0</text>
<line x1="672.0" y1="237.7" x2="675.0" y2="237.7" stroke="#444" stroke-width="1"/>
<text x="668.7" y="245.0" font-size="18.06" text-anchor="end">0.2</text>
<line x1="672.0" y1="188.6" x2="675.0" y2="188.6" stroke="#444" stroke-width="1"/>
<text x="668.7" y="195.9" font-size="18.06" text-anchor="end">0.4</text>
<line x1="672.0" y1="139.4" x2="675.0" y2="139.4" stroke="#444" stroke-width="1"/>
<text x="668.7" y="146.7" font-size="18.06" text-anchor="end">0.6</text>
<line x1="672.0" y1="90.2" x2="675.0" y2="90.2" stroke="#444" stroke-width="1"/>
<text x="668.7" y="97.5" font-size="18.06" text-anchor="end">0.8</text>
<line x1="672.0" y1="41.0" x2="675.0" y2="41.0" stroke="#444" stroke-width="1"/>
<text x="668.7" y="48.3" font-size="18.06" text-anchor="end">1.0</text>
<text x="878.3" y="377.7" font-size="18.06">T<tspan font-size="12.64" dy="3">max</tspan><tspan font-size="18.06" dy="-3"> (s)</tspan></text>
<text transform="translate(619.3,179.3) rotate(-90)" font-size="18.06" text-anchor="middle">Layers</text>
</g>
</svg>
</body></html>
